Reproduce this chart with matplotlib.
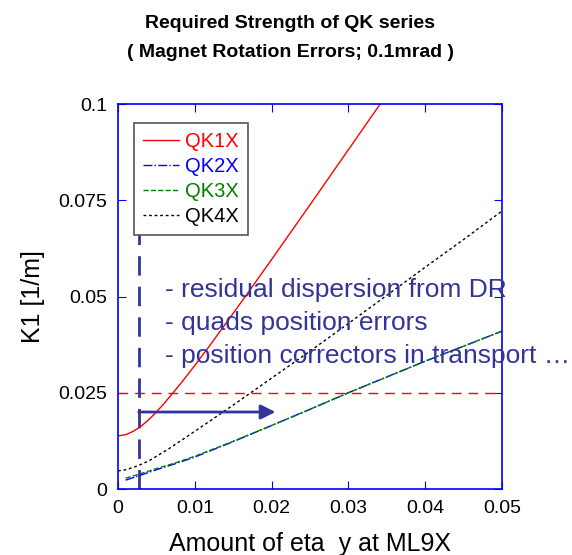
import matplotlib.pyplot as plt
import numpy as np

plt.rcParams['font.family'] = ['Liberation Sans', 'DejaVu Sans']

qk1_x = [0, 0.001, 0.002, 0.003, 0.004, 0.005, 0.006, 0.007, 0.008, 0.009, 0.010,
         0.012, 0.014, 0.016, 0.018, 0.020, 0.022, 0.025, 0.028, 0.031, 0.034, 0.035]
qk1_y = [0.0138, 0.0141, 0.0150, 0.0163, 0.0180, 0.0200, 0.0222, 0.0246, 0.0270, 0.0295, 0.0321,
         0.0374, 0.0429, 0.0484, 0.0540, 0.0596, 0.0653, 0.0738, 0.0824, 0.0910, 0.0996, 0.1024]

qk2_x = [0.001, 0.0025, 0.005, 0.0075, 0.01, 0.015, 0.02, 0.025, 0.03, 0.035, 0.04, 0.045, 0.05]
qk2_y = [0.0023, 0.0033, 0.0050, 0.0066, 0.0083, 0.0123, 0.0165, 0.0207, 0.0250, 0.0291, 0.0332, 0.0371, 0.0410]

qk3_x = [0.001, 0.0025, 0.005, 0.0075, 0.01, 0.015, 0.02, 0.025, 0.03, 0.035, 0.04, 0.045, 0.05]
qk3_y = [0.0028, 0.0037, 0.0053, 0.0068, 0.0085, 0.0124, 0.0165, 0.0207, 0.0250, 0.0291, 0.0332, 0.0371, 0.0410]

qk4_x = [0, 0.001, 0.002, 0.003, 0.004, 0.005, 0.0065, 0.008, 0.01, 0.012, 0.015,
         0.02, 0.025, 0.03, 0.035, 0.04, 0.045, 0.05]
qk4_y = [0.0047, 0.0050, 0.0056, 0.0064, 0.0073, 0.0085, 0.0103, 0.0123, 0.0150, 0.0177, 0.0218,
         0.0288, 0.0358, 0.0430, 0.0503, 0.0576, 0.0648, 0.0722]

limit_k1 = 0.025
eta_now = 0.0027
eta_line_top = 0.0668
arrow_y = 0.02
arrow_end = 0.0205

notes = ["- residual dispersion from DR",
         "- quads position errors",
         "- position correctors in transport \u2026"]
note_y = [0.0517, 0.0431, 0.0345]

x_ticks = [0, 0.01, 0.02, 0.03, 0.04, 0.05]
x_ticklabels = ['0', '0.01', '0.02', '0.03', '0.04', '0.05']
y_ticks = [0, 0.025, 0.05, 0.075, 0.1]
y_ticklabels = ['0', '0.025', '0.05', '0.075', '0.1']

navy = '#333399'

fig = plt.figure(figsize=(5.72, 5.55), dpi=100)
ax = fig.add_axes([0.2063, 0.1189, 0.6713, 0.6937])

ax.axhline(limit_k1, color='red', lw=1, dashes=(7, 5))
ax.vlines(eta_now, 0, eta_line_top, color=navy, lw=2, linestyles=[(0, (7, 4))])

ax.plot(qk1_x, qk1_y, color='red', lw=1, label='QK1X')
ax.plot(qk2_x, qk2_y, color='blue', lw=1, linestyle='-.', label='QK2X')
ax.plot(qk3_x, qk3_y, color='#007f00', lw=1, linestyle='--', label='QK3X')
ax.plot(qk4_x, qk4_y, color='black', lw=1, linestyle=(0, (2, 2)), label='QK4X')

ax.annotate('', xy=(arrow_end, arrow_y), xytext=(eta_now, arrow_y),
            arrowprops=dict(arrowstyle='-|>', color=navy, lw=2, mutation_scale=22,
                            shrinkA=0, shrinkB=0))

for txt, yy in zip(notes, note_y):
    ax.text(0.0061, yy, txt, color=navy, fontsize=19, va='center', ha='left', clip_on=False)

ax.set_xlim(0, 0.05)
ax.set_ylim(0, 0.1)
ax.set_xticks(x_ticks)
ax.set_xticklabels(x_ticklabels)
ax.set_yticks(y_ticks)
ax.set_yticklabels(y_ticklabels)
ax.tick_params(direction='in', length=6, color='blue', labelsize=14, top=True, right=True, pad=8)
for s in ax.spines.values():
    s.set_color('blue')
    s.set_linewidth(1.2)

ax.set_xlabel('Amount of eta  y at ML9X', fontsize=18)
ax.xaxis.set_label_coords(0.5, -0.112)
ax.set_ylabel('K1 [1/m]', fontsize=18)
ax.yaxis.set_label_coords(-0.19, 0.5)

leg = ax.legend(loc='upper left', bbox_to_anchor=(0.042, 0.951), borderaxespad=0,
                fontsize=14.5, labelcolor='linecolor', fancybox=False, framealpha=1,
                edgecolor='#555555', handlelength=1.8, labelspacing=0.3,
                handletextpad=0.3, borderpad=0.45)
leg.get_frame().set_linewidth(1.2)

fig.text(0.507, 0.973, 'Required Strength of QK series\n( Magnet Rotation Errors; 0.1mrad )',
         ha='center', va='top', fontsize=14, fontweight='bold', linespacing=1.9)

fig.savefig('out.png', dpi=100)
